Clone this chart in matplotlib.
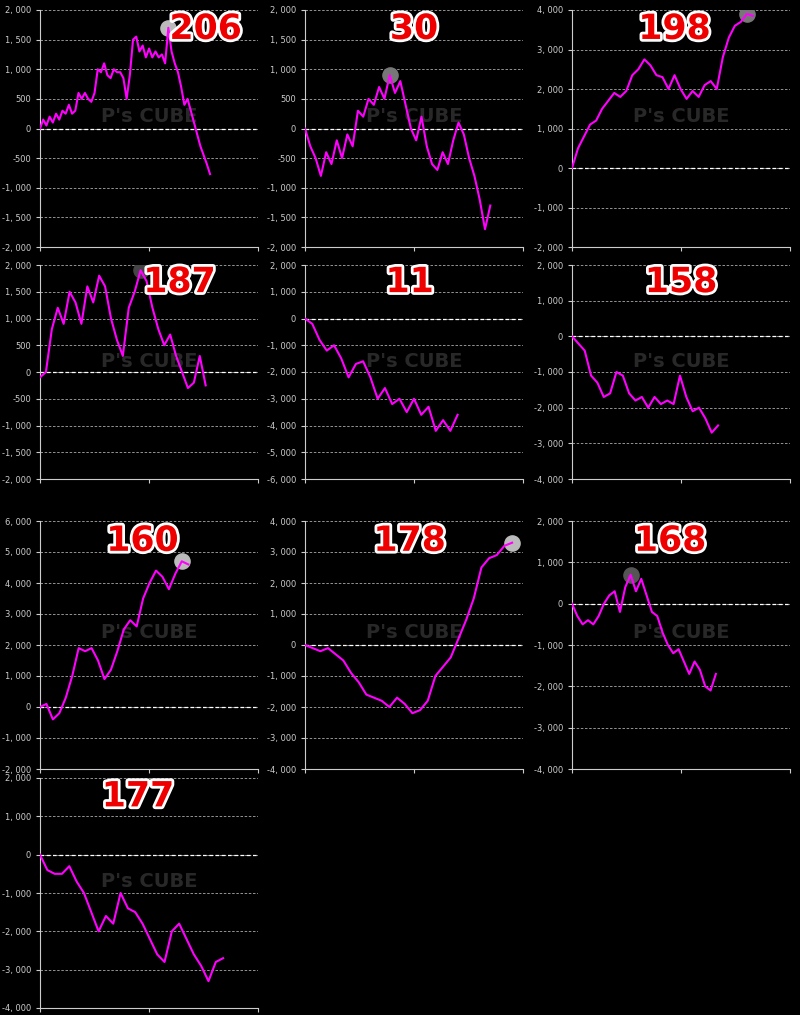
import matplotlib.pyplot as plt
import matplotlib.patheffects as pe
from matplotlib.ticker import FuncFormatter

titles = ["206", "30", "198", "187", "11", "158", "160", "178", "168", "177"]

s206 = [0, 150, 50, 200, 100, 250, 150, 300, 250, 400, 250, 300, 600, 500, 600, 500, 450, 600,
        1000, 950, 1100, 900, 850, 1000, 950, 950, 850, 500, 900, 1500, 1550, 1300, 1400, 1200,
        1350, 1200, 1300, 1200, 1250, 1100, 1700, 1300, 1100, 950, 700, 400, 500, 300, 100,
        -100, -300, -450, -600, -770]
s30 = [0, -300, -500, -800, -400, -600, -200, -500, -100, -300, 300, 200, 500, 400, 700, 500,
       900, 600, 800, 400, 0, -200, 200, -300, -600, -700, -400, -600, -200, 100, -100, -500,
       -800, -1200, -1700, -1300]
s198 = [0, 500, 800, 1100, 1200, 1500, 1700, 1900, 1800, 1950, 2350, 2500, 2750, 2600, 2350,
        2300, 2000, 2350, 2000, 1750, 1950, 1800, 2100, 2200, 2000, 2800, 3300, 3600, 3700,
        3900, 3850]
s187 = [-100, 0, 800, 1200, 900, 1500, 1300, 900, 1600, 1300, 1800, 1600, 1000, 600, 300, 1200,
        1500, 1900, 1700, 1200, 800, 500, 700, 300, 0, -300, -200, 300, -250]
s11 = [0, -200, -800, -1200, -1000, -1500, -2200, -1700, -1600, -2200, -3000, -2600, -3200,
       -3000, -3500, -3000, -3600, -3300, -4200, -3800, -4200, -3600]
s158 = [0, -200, -400, -1100, -1300, -1700, -1600, -1000, -1100, -1600, -1800, -1700, -2000,
        -1700, -1900, -1800, -1900, -1100, -1700, -2100, -2000, -2300, -2700, -2500]
s160 = [0, 100, -400, -200, 300, 1000, 1900, 1800, 1900, 1500, 900, 1200, 1800, 2500, 2800,
        2600, 3500, 4000, 4400, 4200, 3800, 4300, 4700, 4600]
s178 = [0, -100, -200, -100, -300, -500, -900, -1200, -1600, -1700, -1800, -2000, -1700, -1900,
        -2200, -2100, -1800, -1000, -700, -400, 200, 800, 1500, 2500, 2800, 2900, 3200, 3300]
s168 = [0, -300, -500, -400, -500, -300, 0, 200, 300, -200, 400, 700, 300, 600, 200, -200, -300,
        -700, -1000, -1200, -1100, -1400, -1700, -1400, -1600, -2000, -2100, -1700]
s177 = [0, -400, -500, -500, -300, -700, -1000, -1500, -2000, -1600, -1800, -1000, -1400, -1500,
        -1800, -2200, -2600, -2800, -2000, -1800, -2200, -2600, -2900, -3300, -2800, -2700]
series = [s206, s30, s198, s187, s11, s158, s160, s178, s168, s177]

ylims = [(-2000, 2000), (-2000, 2000), (-2000, 4000), (-2000, 2000), (-6000, 2000),
         (-4000, 2000), (-2000, 6000), (-4000, 4000), (-4000, 2000), (-4000, 2000)]
ends = [0.78, 0.85, 0.83, 0.76, 0.70, 0.67, 0.68, 0.95, 0.66, 0.84]
# circle marker: index into series (None = no marker), colour
marks = [(40, "#bbbbbb"), (16, "#777777"), (29, "#777777"), (17, "#444444"), None, None,
         (22, "#bbbbbb"), (27, "#bbbbbb"), (11, "#555555"), None]
label_x = [0.76, 0.50, 0.47, 0.64, 0.48, 0.50, 0.47, 0.48, 0.45, 0.45]

W, H = 800, 1015
col_x = [40, 305, 572]
col_w = 218
rows = [(10, 247), (265, 479), (521, 769), (778, 1008)]

fig = plt.figure(figsize=(W / 100, H / 100), dpi=100, facecolor="black")
fmt = FuncFormatter(lambda v, p: f"{int(v):,}".replace(",", ", "))

for i, s in enumerate(series):
    r, c = divmod(i, 3)
    top, bot = rows[r]
    ax = fig.add_axes([col_x[c] / W, 1 - bot / H, col_w / W, (bot - top) / H])
    ax.set_facecolor("black")
    n = len(s)
    xmax = (n - 1) / ends[i]
    ax.plot(range(n), s, color="#ff00ff", lw=1.5, zorder=3)
    if marks[i]:
        k, col = marks[i]
        ax.scatter([k], [s[k]], s=120, color=col, zorder=2)
    lo, hi = ylims[i]
    ax.set_ylim(lo, hi)
    ax.set_xlim(0, xmax)
    ax.set_yticks(range(lo, hi + 1, 500 if hi - lo == 4000 and i in (0, 1, 3) else 1000))
    ax.yaxis.set_major_formatter(fmt)
    ax.set_xticks([0, xmax / 2, xmax])
    ax.set_xticklabels([])
    ax.tick_params(colors="#cccccc", labelsize=6, length=3)
    ax.grid(axis="y", color="#aaaaaa", ls=(0, (3, 2)), lw=0.6)
    ax.axhline(0, color="white", ls=(0, (3, 2)), lw=0.9)
    for sp in ["top", "right"]:
        ax.spines[sp].set_visible(False)
    for sp in ["left", "bottom"]:
        ax.spines[sp].set_color("#cccccc")
    ax.text(0.5, 0.55, "P's CUBE", transform=ax.transAxes, ha="center", va="center",
            fontsize=14, fontweight="bold", color="#444444", alpha=0.6, zorder=1)
    ax.text(label_x[i], 0.92, titles[i], transform=ax.transAxes, ha="center", va="center",
            fontsize=25, fontweight="bold", color="#ee0000", zorder=5,
            path_effects=[pe.withStroke(linewidth=4, foreground="white")])

fig.savefig("out.png", dpi=100, facecolor="black")
